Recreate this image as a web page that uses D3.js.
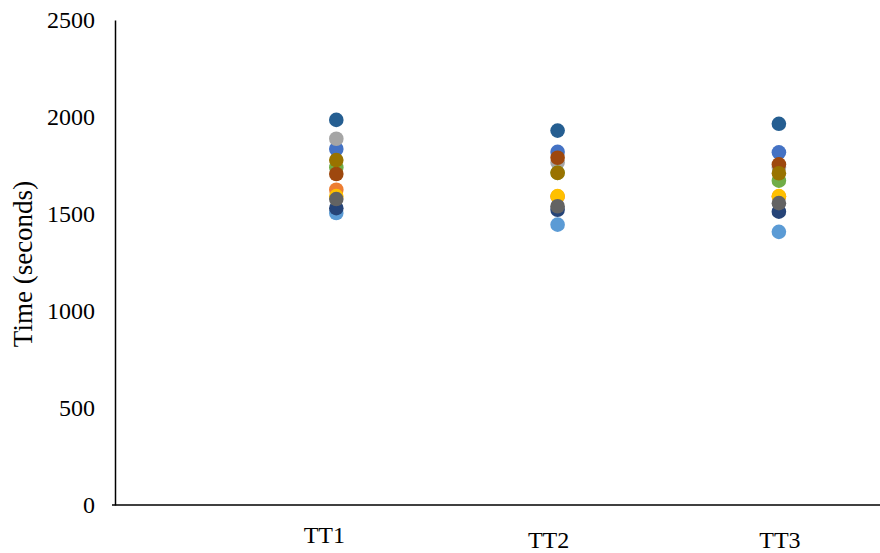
<!DOCTYPE html>
<html>
<head>
<meta charset="utf-8">
<script src="https://cdn.jsdelivr.net/npm/d3@7"></script>
<style>
  html, body { margin: 0; padding: 0; background: #fff; }
  svg { display: block; }
  svg text { font-family: "Liberation Serif", "Times New Roman", serif; }
</style>
</head>
<body>
<svg id="chart" width="880" height="553"></svg>
<script>
// ---- data ----
const categories = ["TT1", "TT2", "TT3"];
const yTicks = [0, 500, 1000, 1500, 2000, 2500];
const yTitle = "Time (seconds)";

const blue       = [1835, 1820, 1818];
const orange     = [1625, 1590, 1590];
const gray       = [1888, 1765, 1740];
const gold       = [1592, 1592, 1592];
const lightBlue  = [1505, 1445, 1408];
const green      = [1740, 1712, 1672];
const navy       = [1530, 1522, 1512];
const darkOrange = [1706, 1790, 1756];
const darkGray   = [1577, 1540, 1556];
const darkGold   = [1778, 1712, 1710];
const steelBlue  = [1985, 1930, 1965];

const seriesValues = [blue, orange, gray, gold, lightBlue, green, navy, darkOrange, darkGray, darkGold, steelBlue];
const seriesColors = ["#4472C4", "#ED7D31", "#A5A5A5", "#FFC000", "#5B9BD5", "#70AD47",
                      "#264478", "#9E480E", "#636363", "#997300", "#255E91"];

// ---- layout ----
const svg = d3.select("#chart");
const x = d3.scaleLinear().domain([0, 3.5]).range([115, 115 + 3.5 * 221.3]);
const y = d3.scaleLinear().domain([0, 2500]).range([505, 20]);
const labelNudge = [[-12, 543], [-9, 548], [1, 548]];

// y axis
const yAxis = d3.axisLeft(y).tickValues(yTicks).tickSize(0).tickPadding(20).tickFormat(d3.format("d"));
const gy = svg.append("g").attr("transform", "translate(115,0)").call(yAxis);
gy.select(".domain").attr("stroke", "#000").attr("stroke-width", 1.5);
gy.selectAll("text").attr("font-family", null).attr("font-size", 24).attr("fill", "#000");
gy.attr("font-family", null);

// x axis (line only)
const xAxis = d3.axisBottom(x).tickValues([]).tickSize(0).tickSizeOuter(0);
const gx = svg.append("g").attr("transform", "translate(0,505)").call(xAxis);
gx.select(".domain").attr("stroke", "#000").attr("stroke-width", 1.5)
  .attr("d", `M112,0H${x(3.5)}`);

// category labels
svg.append("g").selectAll("text").data(categories).join("text")
  .attr("x", (d, i) => x(i + 1) + labelNudge[i][0])
  .attr("y", (d, i) => labelNudge[i][1])
  .attr("text-anchor", "middle")
  .attr("font-size", 24).attr("fill", "#000")
  .text(d => d);

// y title
svg.append("text")
  .attr("transform", "translate(32,264) rotate(-90)")
  .attr("text-anchor", "middle")
  .attr("font-size", 27).attr("fill", "#000")
  .text(yTitle);

// points
seriesValues.forEach((vals, s) => {
  svg.append("g").selectAll("circle").data(vals).join("circle")
    .attr("cx", (d, i) => x(i + 1))
    .attr("cy", d => y(d))
    .attr("r", 7.3)
    .attr("fill", seriesColors[s]);
});
</script>
</body>
</html>
